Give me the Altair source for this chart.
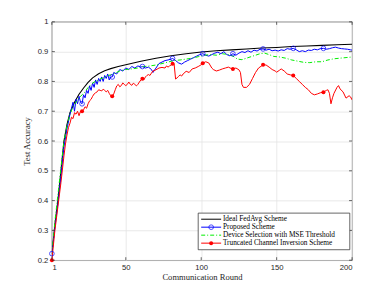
import altair as alt
import pandas as pd

W, H = 301, 239

series_names = [
    "Ideal FedAvg Scheme",
    "Proposed Scheme",
    "Device Selection with MSE Threshold",
    "Truncated Channel Inversion Scheme",
]

x_ticks = [1, 50, 100, 150, 200]
y_ticks = [0.2, 0.3, 0.4, 0.5, 0.6, 0.7, 0.8, 0.9, 1.0]
marker_rounds = [1, 21, 41, 61, 81, 101, 121, 141, 161, 181]

ideal_r = [1, 3, 5, 7, 9, 11, 13, 16, 19, 22, 25, 28, 32, 36, 40, 45, 50, 55, 60, 70, 80, 90, 100,
           110, 120, 130, 140, 150, 160, 170, 180, 190, 200]
ideal_v = [0.22, 0.32, 0.40, 0.50, 0.60, 0.655, 0.695, 0.73, 0.757, 0.778, 0.797, 0.812, 0.826, 0.836,
           0.843, 0.85, 0.856, 0.862, 0.868, 0.878, 0.886, 0.893, 0.899, 0.903, 0.906, 0.909, 0.912,
           0.914, 0.917, 0.919, 0.921, 0.923, 0.925]

prop_r = [1, 3, 5, 7, 9, 11, 13, 14, 15, 16, 17, 18, 19, 20, 21, 22, 23, 24, 25, 26, 27, 28, 29, 30,
          31, 32, 33, 34, 35, 36, 37, 38, 39, 40, 41, 42, 44, 46, 48, 50, 52, 54, 56, 58, 60, 61, 63,
          65, 67, 68, 70, 72, 74, 76, 78, 80, 81, 83, 85, 87, 89, 91, 93, 95, 97, 99, 101, 103, 105,
          107, 109, 111, 113, 115, 117, 119, 121, 123, 125, 127, 129, 131, 133, 135, 137, 139, 141,
          143, 145, 147, 149, 151, 153, 155, 157, 159, 161, 163, 165, 167, 169, 171, 173, 175, 177,
          179, 181, 183, 185, 187, 189, 191, 193, 195, 197, 199, 200]
prop_v = [0.222, 0.31, 0.39, 0.48, 0.58, 0.64, 0.69, 0.71, 0.73, 0.70, 0.74, 0.725, 0.75, 0.73, 0.725,
          0.755, 0.745, 0.77, 0.76, 0.785, 0.77, 0.795, 0.78, 0.805, 0.79, 0.81, 0.80, 0.815, 0.80,
          0.82, 0.81, 0.825, 0.805, 0.815, 0.815, 0.83, 0.825, 0.84, 0.835, 0.845, 0.84, 0.85, 0.845,
          0.852, 0.848, 0.85, 0.845, 0.848, 0.84, 0.83, 0.845, 0.86, 0.865, 0.87, 0.872, 0.875, 0.877,
          0.87, 0.862, 0.858, 0.865, 0.87, 0.875, 0.88, 0.885, 0.89, 0.893, 0.888, 0.885, 0.89, 0.895,
          0.898, 0.893, 0.9, 0.89, 0.886, 0.893, 0.888, 0.895, 0.9, 0.897, 0.903, 0.898, 0.905, 0.902,
          0.908, 0.909, 0.905, 0.908, 0.903, 0.905, 0.902, 0.906, 0.904, 0.91, 0.908, 0.911, 0.906,
          0.9, 0.903, 0.9, 0.905, 0.904, 0.908, 0.906, 0.91, 0.911, 0.908, 0.91, 0.913, 0.915, 0.912,
          0.91, 0.909, 0.908, 0.906, 0.905]

mse_r = [1, 3, 5, 7, 9, 11, 13, 15, 17, 19, 21, 23, 25, 27, 29, 31, 33, 35, 37, 40, 43, 46, 50, 54,
         58, 62, 66, 70, 74, 78, 82, 86, 90, 94, 98, 102, 106, 110, 114, 118, 121, 124, 127, 130, 133,
         136, 139, 142, 145, 148, 152, 156, 160, 164, 168, 172, 176, 180, 184, 188, 192, 196, 200]
mse_v = [0.22, 0.33, 0.42, 0.51, 0.60, 0.65, 0.69, 0.715, 0.73, 0.745, 0.755, 0.765, 0.78, 0.79,
         0.798, 0.802, 0.808, 0.812, 0.818, 0.822, 0.828, 0.835, 0.84, 0.842, 0.845, 0.85, 0.852,
         0.855, 0.86, 0.865, 0.87, 0.872, 0.875, 0.878, 0.883, 0.888, 0.89, 0.888, 0.893, 0.89,
         0.885, 0.875, 0.873, 0.878, 0.883, 0.888, 0.893, 0.895, 0.89, 0.884, 0.882, 0.878, 0.872,
         0.868, 0.864, 0.863, 0.866, 0.866, 0.872, 0.876, 0.878, 0.88, 0.882]

tci_r = [1, 3, 5, 7, 9, 10, 11, 12, 13, 14, 15, 16, 17, 18, 19, 20, 21, 22, 23, 24, 25, 26, 27, 28,
         29, 30, 31, 32, 33, 34, 35, 36, 37, 38, 39, 40, 41, 42, 43, 44, 45, 46, 47, 48, 49, 50, 51,
         52, 53, 54, 55, 56, 57, 58, 59, 60, 61, 62, 63, 64, 65, 66, 67, 68, 70, 72, 74, 76, 77, 78,
         79, 80, 81, 82, 83, 84, 85, 86, 87, 88, 90, 92, 94, 96, 98, 100, 101, 103, 105, 107, 108,
         110, 112, 114, 116, 118, 120, 121, 123, 125, 126, 127, 128, 130, 132, 134, 136, 138, 140,
         141, 143, 145, 147, 149, 150, 152, 153, 155, 157, 159, 161, 163, 165, 167, 169, 171, 173,
         175, 177, 179, 181, 183, 184, 185, 186, 187, 188, 190, 191, 192, 194, 196, 198, 199, 200]
tci_v = [0.20, 0.30, 0.38, 0.46, 0.55, 0.59, 0.62, 0.645, 0.66, 0.68, 0.675, 0.695, 0.69, 0.70,
         0.685, 0.70, 0.70, 0.705, 0.715, 0.71, 0.725, 0.735, 0.74, 0.75, 0.758, 0.762, 0.765, 0.772,
         0.77, 0.768, 0.774, 0.77, 0.765, 0.77, 0.76, 0.752, 0.75, 0.758, 0.772, 0.785, 0.79, 0.782,
         0.786, 0.795, 0.79, 0.786, 0.79, 0.798, 0.79, 0.787, 0.794, 0.79, 0.785, 0.79, 0.798, 0.805,
         0.809, 0.805, 0.815, 0.82, 0.823, 0.82, 0.828, 0.835, 0.839, 0.845, 0.847, 0.845, 0.852,
         0.848, 0.852, 0.855, 0.859, 0.86, 0.808, 0.812, 0.817, 0.822, 0.818, 0.825, 0.834, 0.83,
         0.842, 0.845, 0.85, 0.856, 0.861, 0.866, 0.862, 0.845, 0.84, 0.835, 0.838, 0.842, 0.845,
         0.848, 0.843, 0.842, 0.845, 0.839, 0.83, 0.79, 0.78, 0.78, 0.79, 0.81, 0.83, 0.845, 0.852,
         0.856, 0.855, 0.848, 0.84, 0.835, 0.831, 0.838, 0.842, 0.835, 0.825, 0.822, 0.82, 0.81, 0.80,
         0.79, 0.78, 0.772, 0.76, 0.755, 0.758, 0.762, 0.764, 0.77, 0.772, 0.76, 0.725, 0.745, 0.76,
         0.78, 0.786, 0.775, 0.765, 0.744, 0.752, 0.748, 0.738]

SERIF = "Liberation Serif"
SANS = "Liberation Sans"
TXT = "#262626"

xs = alt.Scale(domain=[1, 200], nice=False, zero=False)
ys = alt.Scale(domain=[0.2, 1.0], nice=False, zero=False)

x_axis = alt.Axis(values=x_ticks, title="Communication Round", grid=True, gridColor="#e3e3e3",
                  gridWidth=0.8, ticks=False, domain=False, labelFont=SANS, labelFontSize=7.7,
                  labelColor=TXT, labelPadding=3, titleFont=SERIF, titleFontSize=8.6,
                  titleFontWeight="normal", titleColor=TXT, titlePadding=2)
y_axis = alt.Axis(values=y_ticks, title="Test Accuracy", grid=True, gridColor="#e3e3e3",
                  gridWidth=0.8, ticks=False, domain=False, labelFont=SANS, labelFontSize=7.7,
                  labelColor=TXT, labelPadding=4,
                  labelExpr="datum.value == 1 ? '1' : format(datum.value, '.1f')",
                  titleFont=SERIF, titleFontSize=8.6, titleFontWeight="normal", titleColor=TXT,
                  titlePadding=6)


def X(field):
    return alt.X(field, scale=xs, axis=x_axis)


def Y(field):
    return alt.Y(field, scale=ys, axis=y_axis)


def df_of(r, v):
    return pd.DataFrame({"r": r, "v": v})


def line(r, v, color, dash=None, width=1.0):
    kw = dict(color=color, strokeWidth=width, clip=True, strokeJoin="round")
    if dash:
        kw["strokeDash"] = dash
    return alt.Chart(df_of(r, v)).mark_line(**kw).encode(x=X("r:Q"), y=Y("v:Q"))


def markers(r, v, **kw):
    d = df_of(r, v)
    d = d[d["r"].isin(marker_rounds)]
    return alt.Chart(d).mark_point(clip=False, **kw).encode(x=X("r:Q"), y=Y("v:Q"))


l_ideal = line(ideal_r, ideal_v, "#000000", width=1.1)
l_prop = line(prop_r, prop_v, "#0000ff")
l_mse = line(mse_r, mse_v, "#00ee00", dash=[4, 2, 1, 2])
l_tci = line(tci_r, tci_v, "#ff0000")
m_prop = markers(prop_r, prop_v, shape="circle", filled=False, color="#0000ff", size=22, strokeWidth=1)
m_tci = markers(tci_r, tci_v, shape="circle", filled=True, color="#ff0000", size=16, opacity=1)

# inward ticks on all four sides
xt = pd.DataFrame({"r": x_ticks})
yt = pd.DataFrame({"v": y_ticks})
tick_style = dict(color=TXT, strokeWidth=0.7)
tk_bottom = alt.Chart(xt).mark_rule(**tick_style).encode(
    x=X("r:Q"), y=alt.value(H), y2=alt.value(H - 3))
tk_top = alt.Chart(xt).mark_rule(**tick_style).encode(
    x=X("r:Q"), y=alt.value(0), y2=alt.value(3))
tk_left = alt.Chart(yt).mark_rule(**tick_style).encode(
    y=Y("v:Q"), x=alt.value(0), x2=alt.value(3))
tk_right = alt.Chart(yt).mark_rule(**tick_style).encode(
    y=Y("v:Q"), x=alt.value(W), x2=alt.value(W - 3))

# legend
LX0, LX1, LY0, LY1 = 146.7, 298.7, 191.8, 228.5
rows_y = [197.9, 205.9, 213.9, 221.9]
leg_box = alt.Chart(pd.DataFrame({"a": [0]})).mark_rect(
    fill="white", stroke=TXT, strokeWidth=0.7).encode(
    x=alt.value(LX0), x2=alt.value(LX1), y=alt.value(LY0), y2=alt.value(LY1))

leg_layers = [leg_box]
leg_specs = [
    ("#000000", None, None),
    ("#0000ff", None, "open"),
    ("#00ee00", [4, 2, 1, 2], None),
    ("#ff0000", None, "filled"),
]
for i, (name, (col, dash, mk)) in enumerate(zip(series_names, leg_specs)):
    one = pd.DataFrame({"name": [name]})
    kw = dict(color=col, strokeWidth=1.0)
    if dash:
        kw["strokeDash"] = dash
    leg_layers.append(alt.Chart(one).mark_rule(**kw).encode(
        x=alt.value(149.7), x2=alt.value(169.7), y=alt.value(rows_y[i])))
    if mk == "open":
        leg_layers.append(alt.Chart(one).mark_point(
            shape="circle", filled=False, color=col, size=22, strokeWidth=1).encode(
            x=alt.value(159.7), y=alt.value(rows_y[i])))
    elif mk == "filled":
        leg_layers.append(alt.Chart(one).mark_point(
            shape="circle", filled=True, color=col, size=16, opacity=1).encode(
            x=alt.value(159.7), y=alt.value(rows_y[i])))
    leg_layers.append(alt.Chart(one).mark_text(
        align="left", baseline="middle", font=SERIF, fontSize=7.3, color="#000000").encode(
        x=alt.value(171.5), y=alt.value(rows_y[i]), text="name:N"))

chart = alt.layer(
    l_ideal, l_prop, l_mse, l_tci, m_prop, m_tci,
    tk_bottom, tk_top, tk_left, tk_right, *leg_layers
).properties(
    width=W, height=H,
    autosize=alt.AutoSizeParams(type="none"),
    padding={"left": 44, "top": 13.5, "right": 30, "bottom": 25},
    background="white",
).configure_view(stroke=TXT, strokeWidth=0.8)

chart.save("out.html", embed_options={"renderer": "svg", "actions": False})
